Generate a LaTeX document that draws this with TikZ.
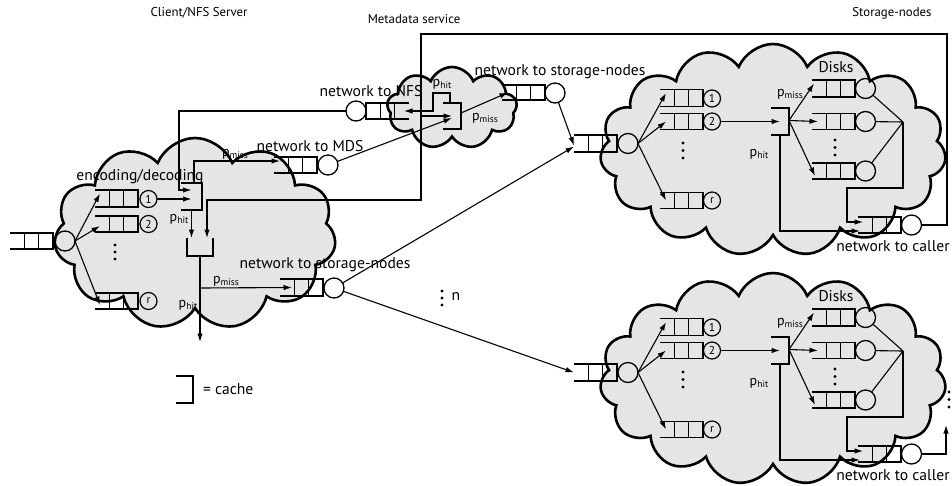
\documentclass[tikz,border=0pt]{standalone}
\usepackage{fontspec}
\setmainfont{PT Sans}
\usetikzlibrary{shapes.symbols,arrows.meta,calc}

\tikzset{
  every node/.style={inner sep=0pt, outer sep=0pt},
  cloudbox/.style={cloud, cloud ignores aspect, draw, line width=2.6pt, fill=black!10, cloud puff arc=135},
  qbox/.style={rectangle, minimum width=43pt},
  qline/.style={line width=1.5pt},
  server/.style={circle, draw, line width=1.3pt, minimum size=20pt},
  worker/.style={circle, draw, line width=1.2pt, minimum size=17pt, font=\fontsize{11.5}{11.5}\selectfont},
  flow/.style={line width=1.1pt, -{Latex[length=8.5pt,width=5.5pt]}},
  link/.style={line width=1.1pt},
  lbl/.style={font=\fontsize{15.6}{16}\selectfont},
  ttl/.style={font=\fontsize{12.8}{14}\selectfont},
  prob/.style={font=\fontsize{14}{14}\selectfont},
  qdot/.style={circle, fill, minimum size=3.4pt},
}

% probability label p_x
\newcommand\probl[1]{p\raisebox{-0.35ex}{\fontsize{9.5}{9.5}\selectfont #1}}

% queue open on the left: name, right end x, centre y, height
\newcommand\queueR[4]{%
  \node[qbox, minimum height=#4pt] (#1) at ({#2-21.5},#3) {};
  \draw[qline] (#1.north west) -- (#1.north east) -- (#1.south east) -- (#1.south west)
    ($(#1.north west)!1/3!(#1.north east)$) -- ($(#1.south west)!1/3!(#1.south east)$)
    ($(#1.north west)!2/3!(#1.north east)$) -- ($(#1.south west)!2/3!(#1.south east)$);}

% queue open on the right: name, left end x, centre y, height
\newcommand\queueL[4]{%
  \node[qbox, minimum height=#4pt] (#1) at ({#2+21.5},#3) {};
  \draw[qline] (#1.north east) -- (#1.north west) -- (#1.south west) -- (#1.south east)
    ($(#1.north west)!1/3!(#1.north east)$) -- ($(#1.south west)!1/3!(#1.south east)$)
    ($(#1.north west)!2/3!(#1.north east)$) -- ($(#1.south west)!2/3!(#1.south east)$);}

% cache open on the left: name, centre x, centre y, width, height
\newcommand\cacheR[5]{%
  \node[minimum width=#4pt, minimum height=#5pt] (#1) at (#2,#3) {};
  \draw[qline] (#1.north west) -- (#1.north east) -- (#1.south east) -- (#1.south west);}

% cache open at the top
\newcommand\cacheU[5]{%
  \node[minimum width=#4pt, minimum height=#5pt] (#1) at (#2,#3) {};
  \draw[qline] (#1.north west) -- (#1.south west) -- (#1.south east) -- (#1.north east);}

% one storage node: name prefix, vertical offset
\newcommand\storagenode[2]{%
\begin{scope}[shift={(0,#2)}]
  \node[cloudbox, cloud puffs=15, minimum width=346pt, minimum height=212pt] (#1cloud) at (773,150) {};
  \queueR{#1in}{617}{143.5}{17}
  \node[server] (#1srv) at (628,143.5) {};
  \queueR{#1q1}{703}{98}{17}
  \node[worker] (#1w1) at (712,98.5) {1};
  \queueR{#1q2}{703}{121.5}{16}
  \node[worker] (#1w2) at (712,121.5) {2};
  \queueR{#1qr}{703}{200.5}{16}
  \node[worker] (#1wr) at (712,200.5) {r};
  \node[qdot] at (683,143) {}; \node[qdot] at (683,150.5) {}; \node[qdot] at (683,158) {};
  \cacheR{#1cache}{780}{121.5}{18}{27}
  \queueR{#1d1}{855}{88.5}{17}
  \node[server] (#1s1) at (865.5,88.5) {};
  \queueR{#1d2}{855}{121.5}{16}
  \node[server] (#1s2) at (865.5,121.5) {};
  \queueR{#1d3}{855}{171}{16}
  \node[server] (#1s3) at (865.5,171) {};
  \node[qdot] at (835,140) {}; \node[qdot] at (835,147.5) {}; \node[qdot] at (835,155) {};
  \coordinate (#1join) at (903,122);
  \coordinate (#1turn) at (847,188);
  \queueR{#1out}{901}{225}{16}
  \node[server] (#1osrv) at (911.5,225) {};
  \node[lbl] at (836,67) {Disks};
  \node[lbl] at (893,246) {network to caller};
  \node[prob] at (790,94) {\probl{miss}};
  \node[prob] at (759,154) {\probl{hit}};
  \draw[flow] (#1srv.east) -- ([xshift=6pt,yshift=5pt]#1q1.west);
  \draw[flow] (#1srv.east) -- ([xshift=6pt]#1q2.west);
  \draw[flow] (#1srv.east) -- ([xshift=6pt]#1qr.west);
  \draw[flow] (#1w2.east) -- (#1cache.center);
  \draw[flow] ([yshift=1pt]#1cache.east) -- ([xshift=2pt,yshift=5pt]#1d1.west);
  \draw[flow] ([yshift=1pt]#1cache.east) -- ([xshift=6pt]#1d2.west);
  \draw[flow] ([yshift=1pt]#1cache.east) -- ([xshift=3pt,yshift=-5pt]#1d3.west);
  \draw[link] (#1s1) -- (#1join) (#1s2) -- (#1join) (#1s3) -- (#1join);
  \draw[flow] (#1join) |- (#1turn) |- ([xshift=5pt,yshift=3pt]#1out.west);
  \draw[flow] (#1cache.south) |- ([xshift=2pt,yshift=-6pt]#1out.west);
\end{scope}}

\begin{document}
\begin{tikzpicture}[x=1pt,y=-1pt]
\useasboundingbox (0,0) rectangle (952,485);

% titles
\node[ttl] at (199,13) {Client/NFS Server};
\node[ttl] at (414,19) {Metadata service};
\node[ttl] at (892,13) {Storage-nodes};

% clouds of the client and of the metadata service
\node[cloudbox, cloud puffs=11, minimum width=282pt, minimum height=192pt] (clientcloud) at (195,234) {};
\node[cloudbox, cloud puffs=9, minimum width=130pt, minimum height=82pt] (metacloud) at (452,108) {};

% storage nodes
\storagenode{u}{0}
\storagenode{l}{229}

% client / NFS server
\queueR{entryq}{53}{241}{16}
\node[server] (entrysrv) at (65,241) {};
\queueR{qc1}{138}{198.5}{17}
\node[worker] (c1) at (148.5,199) {1};
\queueR{qc2}{138}{224}{16}
\node[worker] (c2) at (148.5,224) {2};
\queueR{qcr}{138}{301}{16}
\node[worker] (cr) at (148.5,301) {r};
\node[qdot] at (115,245) {}; \node[qdot] at (115,252) {}; \node[qdot] at (115,259) {};
\cacheR{cacheA}{191.5}{196.5}{21}{27}
\cacheU{cacheB}{200}{247}{26}{18}
\node[lbl] at (140,177) {encoding/decoding};
\node[prob] at (179,219) {\probl{hit}};
\node[prob] at (235,154) {\probl{miss}};
\node[prob] at (226,281) {\probl{miss}};
\node[prob] at (188,305) {\probl{hit}};

% network to MDS
\queueR{mdsq}{317}{165}{16}
\node[server] (mdss) at (328,165) {};
\node[lbl] at (310,146) {network to MDS};

% network to NFS
\node[server] (nfss) at (356,111) {};
\queueL{nfsq}{366}{111}{16}
\node[lbl] at (371,91) {network to NFS};

% metadata cache
\cacheR{metacache}{452}{116}{18}{26}
\node[prob] at (442,84) {\probl{hit}};
\node[prob] at (485,118) {\probl{miss}};
\coordinate (mhit) at (433,93);

% network from the metadata service to the storage nodes
\queueR{snq}{545}{92.5}{15}
\node[server] (sns) at (555,93) {};
\node[lbl] at (560,72) {network to storage-nodes};

% network from the client to the storage nodes
\queueR{cq}{323}{287.5}{17}
\node[server] (cs) at (334,288) {};
\node[lbl] at (325,265) {network to storage-nodes};

% n storage nodes
\node[qdot] at (442,291) {}; \node[qdot] at (442,298) {}; \node[qdot] at (442,305) {};
\node[lbl] at (456,296) {n};

% legend
\cacheR{legend}{184.5}{389.5}{17}{27}
\node[lbl, anchor=west] at (203,389) {= cache};

% client connectors
\draw[flow] (entrysrv.east) -- ([xshift=5pt,yshift=5pt]qc1.west);
\draw[flow] (entrysrv.east) -- ([xshift=5pt,yshift=-2pt]qc2.west);
\draw[flow] (entrysrv.east) -- ([xshift=5pt,yshift=-4pt]qcr.west);
\draw[flow] (c1.east) -- (c1.east -| cacheA.center);
\coordinate (nfsturn) at (179,111);
\draw[flow] (nfss.west) -- (nfsturn) |- ([yshift=6.5pt]cacheA.center);
\draw[flow] ([xshift=2.5pt]cacheA.north) |- ([xshift=6pt,yshift=4pt]mdsq.west);
\draw[flow] (cacheA.south) -- (cacheA.south |- cacheB.north);
\coordinate (cliout) at (200,342);
\coordinate (cmiss) at (200,288);
\draw[flow] (cacheB.south) -- (cliout);
\draw[flow] (cmiss) -- ([xshift=12pt]cq.west);

% metadata connectors
\coordinate (tap) at (421,116);
\draw[flow] (mdss) -- ([yshift=-2pt]metacache.center);
\draw[flow] (tap) -- (metacache.center);
\draw[flow] ([xshift=-2pt]metacache.north) |- (mhit) |- ([xshift=-5pt]nfsq.east);
\draw[flow] ([yshift=3pt]metacache.east) -- ([xshift=6pt]snq.west);

% to the storage nodes
\draw[flow] (sns) -- ([yshift=-2pt]uin.west);
\draw[flow] (cs) -- ([yshift=-3pt]uin.west);
\draw[flow] (cs) -- (lin.west);

% results back to the caller
\draw[flow] (uosrv.east) -| (947,34) -| (421,200) -| ([xshift=7pt]cacheB.north);
\draw[flow] (losrv.east) -| (946,425);
\node[qdot] at (949,392) {}; \node[qdot] at (949,399.5) {}; \node[qdot] at (949,407) {};
\end{tikzpicture}
\end{document}
